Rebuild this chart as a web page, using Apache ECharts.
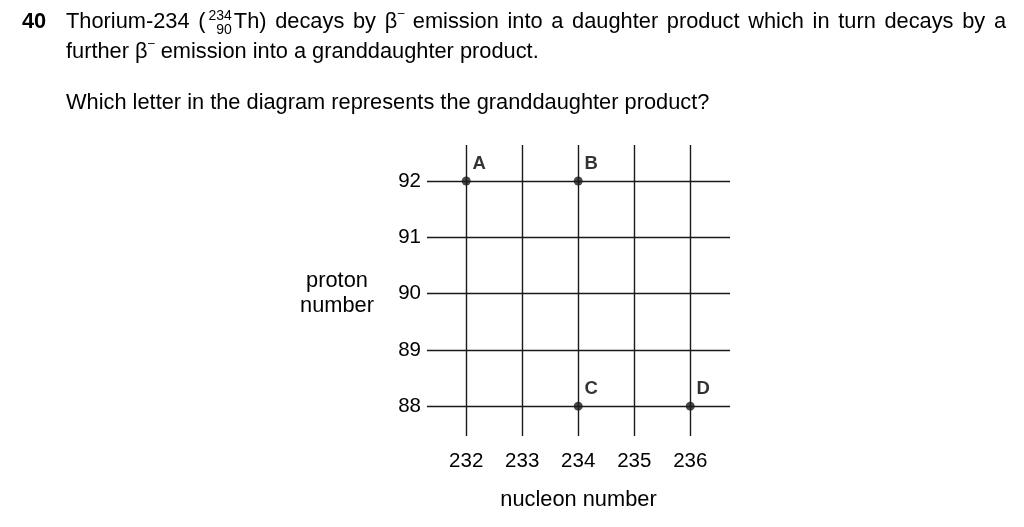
<!DOCTYPE html>
<html>
<head>
<meta charset="utf-8">
<script src="https://cdn.jsdelivr.net/npm/echarts@6/dist/echarts.min.js"></script>
<style>
html,body{margin:0;padding:0;background:#fff;}
#chart{width:1024px;height:527px;}
</style>
</head>
<body>
<div id="chart"></div>
<script>
// ---- data ----
const nucleonNumbers = [232, 233, 234, 235, 236];
const protonNumbers = [88, 89, 90, 91, 92];
const pointLetters = ['A', 'B', 'C', 'D'];
const pointNucleon = [232, 234, 234, 236];
const pointProton = [92, 92, 88, 88];
const questionNumber = '40';
const line1Words = ['Thorium-234', '__NUCLIDE__', 'decays', 'by', '__BETA__', 'emission', 'into', 'a', 'daughter', 'product', 'which', 'in', 'turn', 'decays', 'by', 'a'];
const line2Words = ['further', '__BETA__', 'emission', 'into', 'a', 'granddaughter', 'product.'];
const questionText = 'Which letter in the diagram represents the granddaughter product?';
const xAxisName = 'nucleon number';
const yAxisName = 'proton\nnumber';

// ---- text layout helpers ----
const FONT = '"Liberation Sans", Arial, Helvetica, sans-serif';
const FS = 21.8;
const INK = '#000';
const mctx = document.createElement('canvas').getContext('2d');
function tw(t, size, weight) {
  mctx.font = (weight || 'normal') + ' ' + size + 'px ' + FONT;
  return mctx.measureText(t).width;
}
function txt(t, x, y, size, weight, align) {
  return {
    type: 'text', x: x, y: y, silent: true,
    style: { text: t, fill: INK, fontSize: size, fontFamily: FONT, fontWeight: weight || 'normal',
      align: align || 'left', verticalAlign: 'middle' }
  };
}
function token(word) {
  if (word === '__NUCLIDE__') {
    const wp = tw('(', FS), ws = tw('234', 14);
    const w2 = tw('Th)', FS);
    return { width: wp + 3 + ws + 2 + w2, draw: (x, y) => [
      txt('(', x, y, FS),
      txt('234', x + wp + 3, y - 6, 14),
      txt('90', x + wp + 3 + ws, y + 8, 14, 'normal', 'right'),
      txt('Th)', x + wp + 3 + ws + 2, y, FS)
    ]};
  }
  if (word === '__BETA__') {
    const wb = tw('\u03B2', FS);
    return { width: wb + 7, draw: (x, y) => [
      txt('\u03B2', x, y, FS),
      txt('\u2013', x + wb + 0.5, y - 8, 12)
    ]};
  }
  return { width: tw(word, FS), draw: (x, y) => [txt(word, x, y, FS)] };
}
function lineElems(words, x0, y, x1) {
  const toks = words.map(token);
  const total = toks.reduce((s, t) => s + t.width, 0);
  const gap = x1 != null ? (x1 - x0 - total) / (toks.length - 1) : tw(' ', FS);
  let x = x0, out = [];
  toks.forEach(t => { out = out.concat(t.draw(x, y)); x += t.width + gap; });
  return out;
}

const graphics = [].concat(
  [txt(questionNumber, 22, 22, FS, 'bold')],
  lineElems(line1Words, 66, 22, 1006),
  lineElems(line2Words, 66, 52),
  [txt(questionText, 66, 103, FS)],
  [{
    type: 'text', x: 337, y: 293, silent: true,
    style: { text: yAxisName, fill: INK, fontSize: FS, fontFamily: FONT, align: 'center',
      verticalAlign: 'middle', lineHeight: 25 }
  }]
);

const lineStyle = { color: '#1a1a1a', width: 1.4, type: 'solid' };

const chart = echarts.init(document.getElementById('chart'), null, { renderer: 'canvas' });
chart.setOption({
  animation: false,
  backgroundColor: '#fff',
  grid: { left: 427, right: 294, top: 145, bottom: 91, containLabel: false },
  xAxis: {
    type: 'value', min: 231.3, max: 236.71,
    axisLine: { show: false }, axisTick: { show: false }, splitLine: { show: false },
    axisLabel: { customValues: nucleonNumbers, color: INK, fontSize: 20.5, fontFamily: FONT, margin: 15 },
    name: xAxisName, nameLocation: 'middle', nameGap: 53,
    nameTextStyle: { color: INK, fontSize: FS, fontFamily: FONT }
  },
  yAxis: {
    type: 'value', min: 87.47, max: 92.64,
    axisLine: { show: false }, axisTick: { show: false }, splitLine: { show: false },
    axisLabel: { customValues: protonNumbers, color: INK, fontSize: 20.5, fontFamily: FONT, margin: 6 }
  },
  graphic: graphics,
  series: [{
    type: 'scatter',
    symbol: 'circle', symbolSize: 9,
    itemStyle: { color: '#1a1a1a' },
    data: pointNucleon.map((x, i) => ({ value: [x, pointProton[i]], name: pointLetters[i] })),
    label: {
      show: true, position: 'inside', offset: [13, -17],
      formatter: p => p.name,
      color: INK, fontSize: 18.5, fontWeight: 'bold', fontFamily: FONT
    },
    markLine: {
      silent: true, symbol: 'none', label: { show: false },
      lineStyle: lineStyle,
      data: nucleonNumbers.map(v => ({ xAxis: v })).concat(protonNumbers.map(v => ({ yAxis: v })))
    },
    z: 5
  }]
});
</script>
</body>
</html>
